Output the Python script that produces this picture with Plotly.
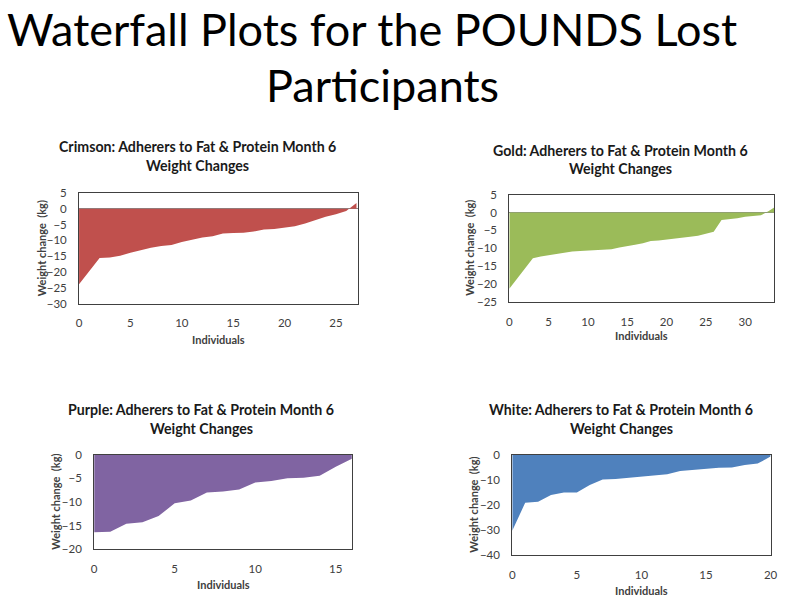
import plotly.graph_objects as go

W, H = 800, 611
FONT = "Lato"

# ---------------- data ----------------
crimson_x = list(range(28))
crimson_y = [-23.9, -19.8, -15.6, -15.4, -14.9, -13.9, -13.1, -12.3, -11.8, -11.5,
             -10.5, -9.7, -9.1, -8.7, -7.8, -7.7, -7.6, -7.2, -6.6, -6.4,
             -6.0, -5.5, -4.7, -3.6, -2.5, -1.7, -0.7, 1.8]

gold_x = list(range(35))
gold_y = [-21.3, -18.5, -15.6, -12.8, -12.3, -11.9, -11.5, -11.1, -10.9, -10.8,
          -10.7, -10.6, -10.5, -10.3, -9.8, -9.3, -9.0, -8.6, -8.0, -7.8,
          -7.6, -7.3, -7.0, -6.8, -6.5, -6.0, -5.4, -2.1, -1.9, -1.6,
          -1.2, -1.0, -0.8, 0.4, 1.8]

purple_x = list(range(17))
purple_y = [-16.4, -16.3, -14.6, -14.3, -13.0, -10.3, -9.7, -8.0, -7.8, -7.4,
            -5.9, -5.6, -5.0, -4.9, -4.5, -2.6, -0.9]

white_x = list(range(21))
white_y = [-30.3, -19.2, -18.8, -16.1, -15.1, -15.1, -12.1, -9.9, -9.7, -9.2,
           -8.6, -8.4, -7.8, -6.5, -6.0, -5.6, -5.2, -5.1, -4.2, -3.6, -0.8]

titles = ["Crimson: Adherers to Fat & Protein Month 6",
          "Gold: Adherers to Fat & Protein Month 6",
          "Purple: Adherers to Fat & Protein Month 6",
          "White: Adherers to Fat & Protein Month 6"]
subtitle = "Weight Changes"
main_title_1 = "Waterfall Plots for the POUNDS Lost"
main_title_2 = "Participants"
x_title = "Individuals"
y_title = "Weight change\u00a0\u00a0(kg)"

colors = ["#C0504D", "#9BBB59", "#8064A2", "#4F81BD"]

# ---------------- layout (pixel boxes) ----------------
# (left, right, top, bottom) in pixels
boxes = [(77, 359, 190, 303),
         (512.7, 781, 191.7, 301.3),
         (92.3, 353.3, 457.3, 554),
         (515.7, 777.3, 457.3, 560)]
xranges = [[0, 27.1], [0, 33.7], [0, 16], [0, 20]]
yranges = [[-30, 5], [-25, 5], [-20, 0], [-40, 0]]
ydticks = [5, 5, 5, 10]
title_pos = [(196.5, 143.0, 162.0), (625, 146.3, 165.3), (201, 411.3, 430.3), (626.3, 411.3, 430.3)]
ytitle_x = [38.5, 472.5, 53.5, 476.8]
xtitle_y = [339.3, 336, 590, 596]


def px(x):
    return x / W


def py(y):
    return 1 - y / H


fig = go.Figure()
datasets = [(crimson_x, crimson_y), (gold_x, gold_y), (purple_x, purple_y), (white_x, white_y)]

annotations = []
for i, ((xs, ys), (l, r, t, b)) in enumerate(zip(datasets, boxes)):
    n = "" if i == 0 else str(i + 1)
    fig.add_trace(go.Scatter(x=xs, y=ys, mode="lines", fill="tozeroy",
                             fillcolor=colors[i], line=dict(width=0, color=colors[i]),
                             xaxis="x" + n, yaxis="y" + n, showlegend=False,
                             hoverinfo="x+y"))
    axis_common = dict(showline=True, mirror=True, linecolor="#404040", linewidth=1,
                       showgrid=False, ticks="",
                       tickfont=dict(family=FONT, size=11.5, color="#404040"))
    fig.layout["xaxis" + n] = dict(domain=[px(l), px(r)], anchor="y" + n,
                                   range=xranges[i], dtick=5, tick0=0,
                                   zeroline=False, ticklabelstandoff=9, **axis_common)
    fig.layout["yaxis" + n] = dict(domain=[py(b), py(t)], anchor="x" + n,
                                   range=yranges[i], dtick=ydticks[i], tick0=0,
                                   zeroline=True, zerolinecolor="#868686", zerolinewidth=1,
                                   ticklabelstandoff=9, **axis_common)
    cx, y1, y2 = title_pos[i]
    annotations.append(dict(text="<b>" + titles[i] + "</b>", x=px(cx), y=py(y1),
                            xref="paper", yref="paper", showarrow=False,
                            xanchor="center", yanchor="middle",
                            font=dict(family=FONT, size=14.2, color="#1a1a1a")))
    annotations.append(dict(text="<b>" + subtitle + "</b>", x=px(cx), y=py(y2),
                            xref="paper", yref="paper", showarrow=False,
                            xanchor="center", yanchor="middle",
                            font=dict(family=FONT, size=14.2, color="#1a1a1a")))
    annotations.append(dict(text="<b>" + x_title + "</b>", x=px((l + r) / 2), y=py(xtitle_y[i]),
                            xref="paper", yref="paper", showarrow=False,
                            xanchor="center", yanchor="middle",
                            font=dict(family=FONT, size=11, color="#404040")))
    annotations.append(dict(text="<b>" + y_title + "</b>", x=px(ytitle_x[i]), y=py((t + b) / 2),
                            xref="paper", yref="paper", showarrow=False, textangle=-90,
                            xanchor="center", yanchor="middle",
                            font=dict(family=FONT, size=11, color="#404040")))

annotations.append(dict(text=main_title_1, x=px(374), y=py(22), xref="paper", yref="paper",
                        showarrow=False, xanchor="center", yanchor="middle",
                        font=dict(family=FONT, size=45, color="#000000")))
annotations.append(dict(text=main_title_2, x=px(384), y=py(80), xref="paper", yref="paper",
                        showarrow=False, xanchor="center", yanchor="middle",
                        font=dict(family=FONT, size=45, color="#000000")))

fig.update_layout(width=W, height=H, margin=dict(l=0, r=0, t=0, b=0),
                  paper_bgcolor="white", plot_bgcolor="white",
                  annotations=annotations, showlegend=False)

fig.write_html("out.html", config={"displayModeBar": False},
               post_script="document.body.style.margin='0';document.body.style.padding='0';"
                           "document.body.style.overflow='hidden';")
